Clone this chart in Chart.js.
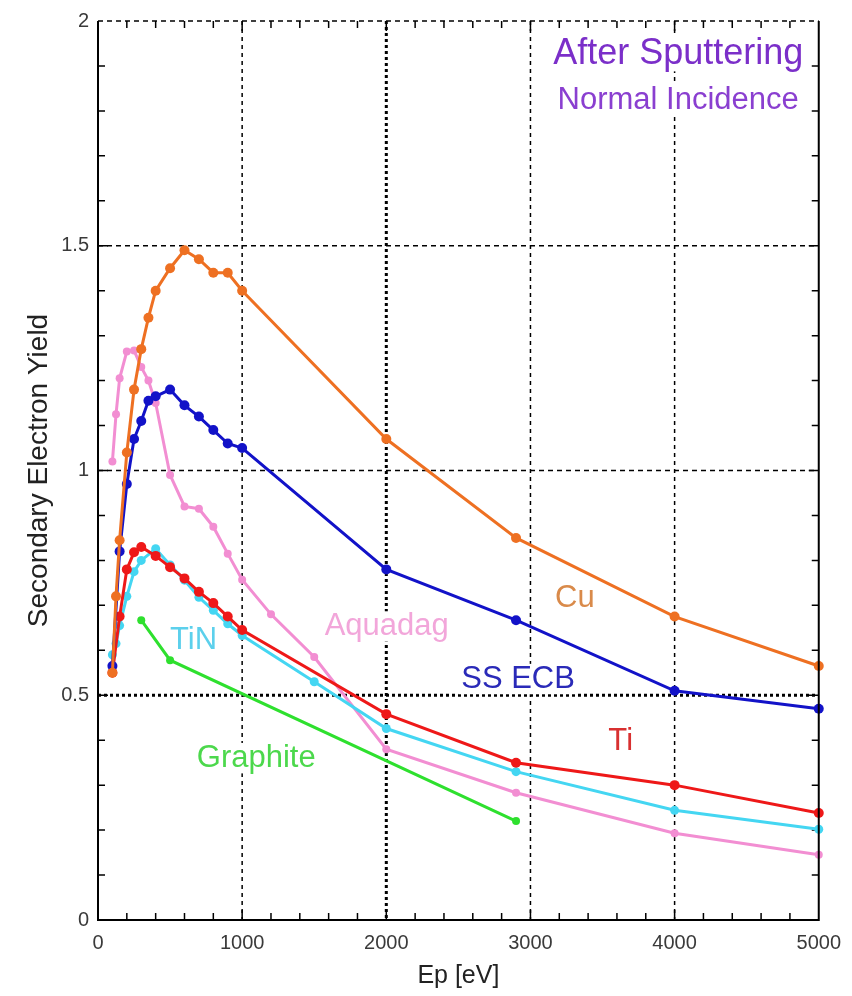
<!DOCTYPE html>
<html>
<head>
<meta charset="utf-8">
<script src="https://cdn.jsdelivr.net/npm/chart.js@4.4.0/dist/chart.umd.min.js"></script>
<style>
  html, body { margin: 0; padding: 0; background: #fff; }
  #wrap { width: 852px; height: 996px; }
</style>
</head>
<body>
<div id="wrap"><canvas id="myChart" width="852" height="996"></canvas></div>
<script>
// datos (Ep en eV, rendimiento de electrones secundarios)
const energyCu = [100, 125, 150, 200, 250, 300, 350, 400, 500, 600, 700, 800, 900, 1000, 2000, 2900, 4000, 5000];
const yieldCu = [0.55, 0.72, 0.845, 1.04, 1.18, 1.27, 1.34, 1.40, 1.45, 1.49, 1.47, 1.44, 1.44, 1.40, 1.07, 0.85, 0.675, 0.565];

const energySS = [100, 150, 200, 250, 300, 350, 400, 500, 600, 700, 800, 900, 1000, 2000, 2900, 4000, 5000];
const yieldSS = [0.565, 0.82, 0.97, 1.07, 1.11, 1.155, 1.165, 1.18, 1.145, 1.12, 1.09, 1.06, 1.05, 0.78, 0.667, 0.51, 0.47];

const energyAq = [100, 125, 150, 200, 250, 300, 350, 400, 500, 600, 700, 800, 900, 1000, 1200, 1500, 2000, 2900, 4000, 5000];
const yieldAq = [1.02, 1.125, 1.205, 1.265, 1.267, 1.23, 1.20, 1.15, 0.99, 0.92, 0.915, 0.875, 0.815, 0.757, 0.68, 0.585, 0.38, 0.283, 0.193, 0.145];

const energyTi = [100, 150, 200, 250, 300, 400, 500, 600, 700, 800, 900, 1000, 2000, 2900, 4000, 5000];
const yieldTi = [0.55, 0.675, 0.78, 0.818, 0.83, 0.81, 0.785, 0.76, 0.73, 0.705, 0.675, 0.645, 0.458, 0.35, 0.30, 0.238];

const energyTiN = [100, 125, 150, 200, 250, 300, 400, 500, 600, 700, 800, 900, 1000, 1500, 2000, 2900, 4000, 5000];
const yieldTiN = [0.59, 0.615, 0.655, 0.72, 0.775, 0.80, 0.826, 0.79, 0.756, 0.718, 0.689, 0.659, 0.633, 0.53, 0.426, 0.33, 0.244, 0.202];

const energyGr = [300, 500, 2900];
const yieldGr = [0.667, 0.578, 0.22];

// ejes
const xTicks = [0, 1000, 2000, 3000, 4000, 5000];
const yTicks = [0, 0.5, 1, 1.5, 2];

// etiquetas dentro del grafico
const notes = [
  { text: "After Sputtering", x: 4025, y: 1.904, color: "#7b2fc9", size: 36 },
  { text: "Normal Incidence", x: 4025, y: 1.804, color: "#8a3fd0", size: 31 },
  { text: "Cu", x: 3308, y: 0.696, color: "#d98a4a", size: 31 },
  { text: "SS ECB", x: 2914, y: 0.516, color: "#2a2ab8", size: 31 },
  { text: "Ti", x: 3626, y: 0.378, color: "#d83030", size: 31 },
  { text: "TiN", x: 663, y: 0.604, color: "#5cd0ec", size: 31 },
  { text: "Aquadag", x: 2003, y: 0.633, color: "#f2a6da", size: 31 },
  { text: "Graphite", x: 1098, y: 0.34, color: "#4cd84c", size: 31 }
];

const FONT = "'Liberation Sans', Arial, Helvetica, sans-serif";

function pts(xs, ys) {
  return xs.map(function (v, i) { return { x: v, y: ys[i] }; });
}

function serie(label, xs, ys, color, order, r) {
  return {
    label: label,
    data: pts(xs, ys),
    borderColor: color,
    backgroundColor: color,
    borderWidth: 3,
    pointRadius: r,
    pointBorderWidth: 0,
    showLine: true,
    tension: 0,
    clip: false,
    order: order
  };
}

// rejilla punteada, marcas menores y etiquetas con fondo blanco
const rejilla = {
  id: "rejilla",
  beforeDatasetsDraw(chart) {
    const ctx = chart.ctx;
    const a = chart.chartArea;
    const x = chart.scales.x;
    const y = chart.scales.y;
    ctx.save();
    ctx.strokeStyle = "#000";

    // marcas menores
    ctx.lineWidth = 1.5;
    ctx.setLineDash([]);
    for (let v = 200; v < 5000; v += 200) {
      const px = x.getPixelForValue(v);
      const len = v % 1000 === 0 ? 10 : 7;
      ctx.beginPath();
      ctx.moveTo(px, a.bottom); ctx.lineTo(px, a.bottom - len);
      ctx.moveTo(px, a.top); ctx.lineTo(px, a.top + len);
      ctx.stroke();
    }
    for (let k = 1; k < 20; k++) {
      const py = y.getPixelForValue(k / 10);
      const len = k % 5 === 0 ? 10 : 7;
      ctx.beginPath();
      ctx.moveTo(a.left, py); ctx.lineTo(a.left + len, py);
      ctx.moveTo(a.right, py); ctx.lineTo(a.right - len, py);
      ctx.stroke();
    }

    // lineas verticales
    xTicks.slice(1, -1).forEach(function (v) {
      const px = x.getPixelForValue(v);
      const fuerte = v === 2000;
      ctx.lineWidth = fuerte ? 3 : 1.5;
      ctx.setLineDash(fuerte ? [3, 3] : [4, 4]);
      ctx.beginPath();
      ctx.moveTo(px, a.top); ctx.lineTo(px, a.bottom);
      ctx.stroke();
    });
    // lineas horizontales
    yTicks.slice(1).forEach(function (v) {
      const py = y.getPixelForValue(v);
      const fuerte = v === 0.5;
      ctx.lineWidth = fuerte ? 3 : 1.5;
      ctx.setLineDash(fuerte ? [3, 3] : [5, 4]);
      ctx.beginPath();
      ctx.moveTo(a.left, py); ctx.lineTo(a.right, py);
      ctx.stroke();
    });
    ctx.setLineDash([]);

    // textos
    ctx.textAlign = "center";
    ctx.textBaseline = "alphabetic";
    notes.forEach(function (n) {
      ctx.font = n.size + "px " + FONT;
      const px = x.getPixelForValue(n.x);
      const py = y.getPixelForValue(n.y);
      const w = ctx.measureText(n.text).width;
      ctx.fillStyle = "#fff";
      ctx.fillRect(px - w / 2 - 3, py - n.size * 0.78, w + 6, n.size * 0.98);
      ctx.fillStyle = n.color;
      ctx.fillText(n.text, px, py);
    });
    ctx.restore();
  },
  afterDatasetsDraw(chart) {
    const ctx = chart.ctx;
    const a = chart.chartArea;
    ctx.save();
    ctx.strokeStyle = "#000";
    ctx.lineWidth = 2;
    ctx.beginPath();
    ctx.moveTo(a.left, a.top);
    ctx.lineTo(a.left, a.bottom);
    ctx.lineTo(a.right, a.bottom);
    ctx.lineTo(a.right, a.top);
    ctx.stroke();
    ctx.restore();
  }
};

const ctx = document.getElementById("myChart").getContext("2d");

const chart = new Chart(ctx, {
  type: "line",
  data: {
    datasets: [
      serie("Cu", energyCu, yieldCu, "#ee7022", 1, 5),
      serie("SS ECB", energySS, yieldSS, "#1212c8", 2, 5),
      serie("Ti", energyTi, yieldTi, "#ee1818", 3, 5),
      serie("TiN", energyTiN, yieldTiN, "#44d6f2", 4, 4.5),
      serie("Aquadag", energyAq, yieldAq, "#f28ed2", 5, 4),
      serie("Graphite", energyGr, yieldGr, "#2ee02e", 6, 4)
    ]
  },
  options: {
    responsive: false,
    animation: false,
    layout: { padding: { top: 20, right: 27, left: 0, bottom: 0 } },
    plugins: {
      legend: { display: false },
      tooltip: { enabled: false }
    },
    scales: {
      x: {
        type: "linear",
        min: 0,
        max: 5000,
        afterBuildTicks: function (s) { s.ticks = xTicks.map(function (v) { return { value: v }; }); },
        afterFit: function (s) { s.height = 76; },
        grid: { display: false, drawTicks: false },
        border: { display: false },
        ticks: {
          color: "#3a3a3a",
          padding: 11,
          maxRotation: 0,
          font: { family: FONT, size: 20 },
          callback: function (v) { return String(v); }
        },
        title: {
          display: true,
          text: "Ep [eV]",
          color: "#222",
          font: { family: FONT, size: 25 },
          padding: { top: 0, bottom: 5 }
        }
      },
      y: {
        type: "linear",
        min: 0,
        max: 2,
        afterBuildTicks: function (s) { s.ticks = yTicks.map(function (v) { return { value: v }; }); },
        afterFit: function (s) { s.width = 98; },
        grid: { display: false, drawTicks: false },
        border: { display: false },
        ticks: {
          color: "#3a3a3a",
          padding: 9,
          font: { family: FONT, size: 20 },
          callback: function (v) { return String(v); }
        },
        title: {
          display: true,
          text: "Secondary Electron Yield",
          color: "#222",
          font: { family: FONT, size: 28 },
          padding: { top: 22, bottom: 0 }
        }
      }
    }
  },
  plugins: [rejilla]
});
</script>
</body>
</html>
